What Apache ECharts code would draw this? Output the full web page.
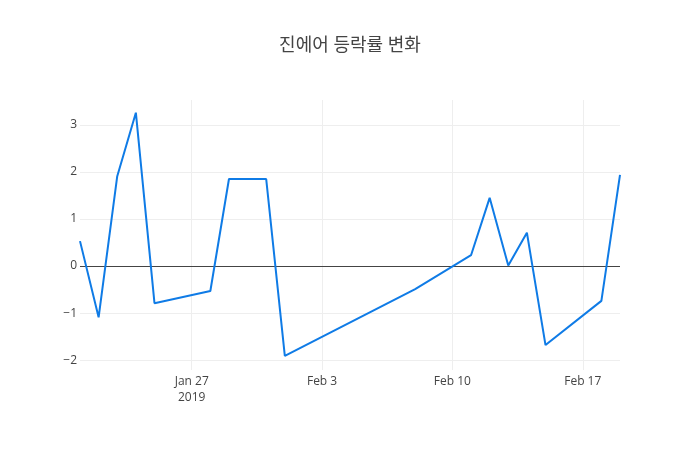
<!DOCTYPE html>
<html>
<head>
<meta charset="utf-8">
<script src="https://cdn.jsdelivr.net/npm/echarts@6/dist/echarts.min.js"></script>
<style>
  html, body { margin: 0; padding: 0; background: #fff; }
  #chart { width: 700px; height: 450px; }
</style>
</head>
<body>
<div id="chart"></div>
<script>
var dates = [
  '2019-01-21', '2019-01-22', '2019-01-23', '2019-01-24', '2019-01-25',
  '2019-01-28', '2019-01-29', '2019-01-30', '2019-01-31', '2019-02-01',
  '2019-02-08', '2019-02-11', '2019-02-12', '2019-02-13', '2019-02-14',
  '2019-02-15', '2019-02-18', '2019-02-19'
];
var changes = [
  0.53, -1.09, 1.91, 3.26, -0.79,
  -0.53, 1.85, 1.85, 1.85, -1.91,
  -0.49, 0.23, 1.45, 0.01, 0.71,
  -1.68, -0.74, 1.94
];
var xTicks = ['2019-01-27', '2019-02-03', '2019-02-10', '2019-02-17'];
var yTicks = [-2, -1, 0, 1, 2, 3];

function ts(s) {
  var p = s.split('-');
  return Date.UTC(+p[0], +p[1] - 1, +p[2]);
}
var months = ['Jan', 'Feb', 'Mar', 'Apr', 'May', 'Jun', 'Jul', 'Aug', 'Sep', 'Oct', 'Nov', 'Dec'];

var font = '"Open Sans", "Noto Sans CJK KR", sans-serif';
var chart = echarts.init(document.getElementById('chart'));

var option = {
  backgroundColor: '#fff',
  animation: false,
  title: {
    text: '진에어 등락률 변화',
    left: 'center',
    top: 32,
    textStyle: { fontFamily: font, fontSize: 18, fontWeight: 'normal', color: '#444' }
  },
  grid: { left: 80, right: 80, top: 100, bottom: 80 },
  xAxis: {
    // dates as UTC ms on a plain value axis so the week ticks can be placed exactly
    type: 'value',
    min: ts(dates[0]),
    max: ts(dates[dates.length - 1]),
    axisLine: { show: false },
    axisTick: { show: false, customValues: xTicks.map(ts) },
    axisLabel: {
      customValues: xTicks.map(ts),
      fontFamily: font,
      fontSize: 12,
      color: '#444',
      margin: 4,
      lineHeight: 16,
      formatter: function (v) {
        var d = new Date(v);
        var s = months[d.getUTCMonth()] + ' ' + d.getUTCDate();
        if (v === ts(xTicks[0])) s += '\n' + d.getUTCFullYear();
        return s;
      }
    },
    splitLine: { show: true, lineStyle: { color: '#eee', width: 1 } }
  },
  yAxis: {
    type: 'value',
    min: -2.21,
    max: 3.53,
    axisLine: { show: false },
    axisTick: { show: false, customValues: yTicks },
    axisLabel: {
      customValues: yTicks,
      fontFamily: font,
      fontSize: 12,
      color: '#444',
      margin: 3,
      formatter: function (v) { return String(v).replace('-', '\u2212'); }
    },
    splitLine: { show: true, lineStyle: { color: '#eee', width: 1 } }
  },
  series: [{
    type: 'line',
    data: dates.map(function (d, i) { return [ts(d), changes[i]]; }),
    showSymbol: false,
    symbol: 'none',
    lineStyle: { color: '#0f7be6', width: 2 },
    markLine: {
      silent: true,
      symbol: 'none',
      label: { show: false },
      lineStyle: { color: '#444', width: 1, type: 'solid' },
      data: [{ yAxis: 0 }],
      z: 1
    },
    z: 3
  }]
};
chart.setOption(option);
</script>
</body>
</html>
